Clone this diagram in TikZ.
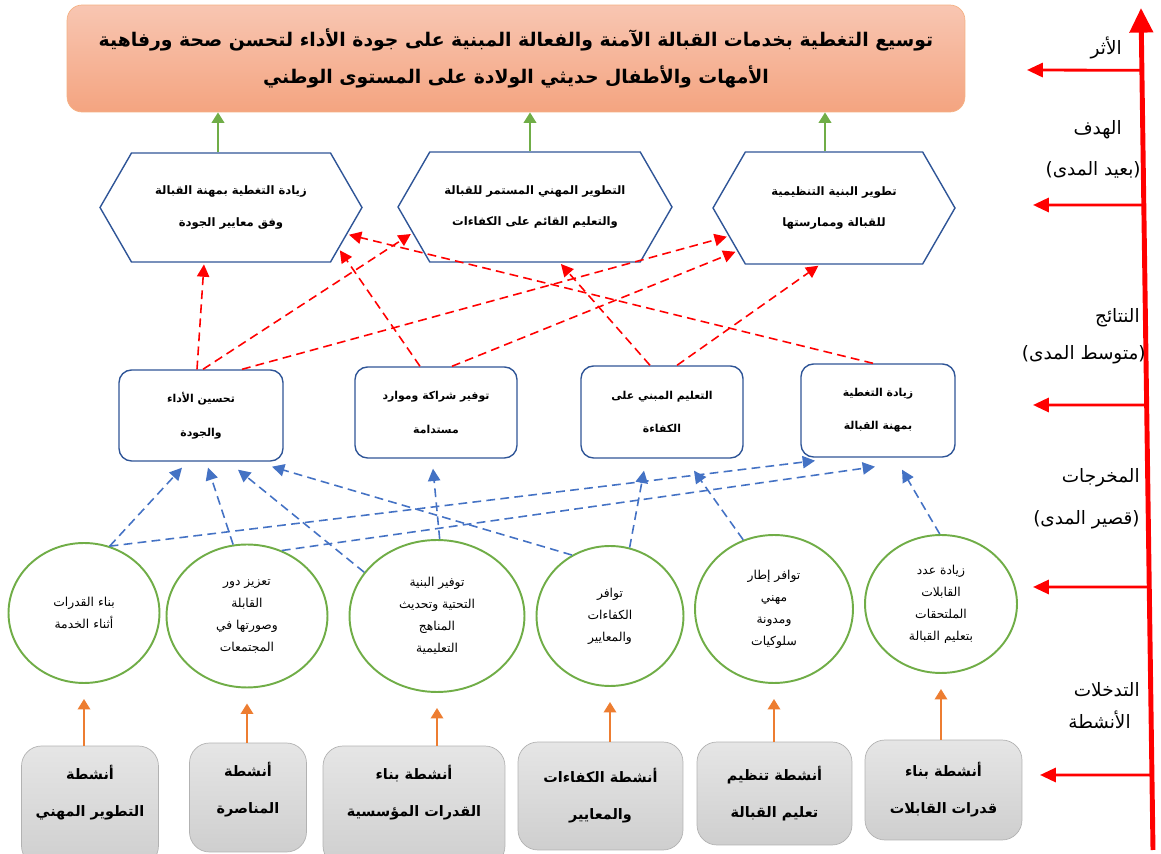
\documentclass[tikz,border=0pt]{standalone}
\usepackage{fontspec}
\usetikzlibrary{shapes.geometric,shapes.symbols,arrows.meta,calc}
\TeXXeTstate=1
\newfontfamily\arabicfont[Script=Arabic]{DejaVu Sans}
\newcommand{\rl}[1]{\beginR#1\endR}

\definecolor{blueline}{RGB}{47,85,151}
\definecolor{bluedash}{RGB}{68,114,196}
\definecolor{greenline}{RGB}{112,173,71}
\definecolor{orangeline}{RGB}{237,125,49}
\definecolor{titletop}{RGB}{248,198,178}
\definecolor{titlebot}{RGB}{244,164,128}

\tikzset{
  impactbox/.style={draw=orangeline!60,rounded corners=0.3cm,top color=titletop,bottom color=titlebot,
    font=\arabicfont\bfseries\fontsize{10.7}{21}\selectfont,align=center,inner sep=0},
  goalhex/.style={signal,signal to=west and east,signal pointer angle=120,draw=blueline,thick,
    font=\arabicfont\bfseries\fontsize{6.6}{18}\selectfont,align=center,inner sep=0},
  outcomebox/.style={draw=blueline,thick,rounded corners=0.25cm,
    font=\arabicfont\bfseries\fontsize{6.2}{19}\selectfont,align=center},
  outputcircle/.style={ellipse,draw=greenline,line width=1.1pt,
    font=\arabicfont\fontsize{7}{12.5}\selectfont,align=center,inner sep=0},
  activitybox/.style={draw=gray!60,rounded corners=0.4cm,top color=gray!20,bottom color=gray!38,
    font=\arabicfont\bfseries\fontsize{8.2}{21}\selectfont,align=center},
  levellabel/.style={font=\arabicfont\fontsize{10.5}{12}\selectfont,anchor=east,inner sep=0},
  upgreen/.style={-{Triangle[width=7pt,length=6pt]},greenline,line width=1.5pt},
  uporange/.style={-{Triangle[width=7pt,length=6pt]},orangeline,line width=1.4pt,shorten >=0.3cm},
  redarrow/.style={-{Triangle[width=7pt,length=7pt]},red,line width=0.9pt,dash pattern=on 5pt off 3pt,shorten >=1pt},
  bluearrow/.style={-{Triangle[width=7pt,length=7pt]},bluedash,line width=0.9pt,dash pattern=on 5pt off 3pt},
  axisarrow/.style={-{Triangle[width=13pt,length=14pt]},red,line width=2.8pt},
  sidearrow/.style={-{Triangle[width=8pt,length=9pt]},red,line width=1.6pt}
}

\begin{document}
\begin{tikzpicture}[x=0.02cm,y=-0.02cm]
\useasboundingbox (0,0) rectangle (1161,854);

% impact
\node[impactbox,minimum width=17.96cm,minimum height=2.14cm] (t) at (516,58.5)
  {\rl{توسيع التغطية بخدمات القبالة الآمنة والفعالة المبنية على جودة الأداء لتحسن صحة ورفاهية}\\
   \rl{الأمهات والأطفال حديثي الولادة على المستوى الوطني}};

% goals
\node[goalhex,minimum width=5.24cm,minimum height=2.18cm] (h1) at (231,207.5)
  {\rl{زيادة التغطية بمهنة القبالة}\\\rl{وفق معايير الجودة}};
\node[goalhex,minimum width=5.48cm,minimum height=2.2cm] (h2) at (535,207)
  {\rl{التطوير المهني المستمر للقبالة}\\\rl{والتعليم القائم على الكفاءات}};
\node[goalhex,minimum width=4.84cm,minimum height=2.24cm] (h3) at (834,208)
  {\rl{تطوير البنية التنظيمية}\\\rl{للقبالة وممارستها}};

\draw[upgreen] ([xshift=-0.26cm]h1.north) -- ([xshift=-0.26cm]h1.north |- t.south);
\draw[upgreen] ([xshift=-0.1cm]h2.north) -- ([xshift=-0.1cm]h2.north |- t.south);
\draw[upgreen] ([xshift=-0.18cm]h3.north) -- ([xshift=-0.18cm]h3.north |- t.south);

% outcomes
\node[outcomebox,minimum width=3.28cm,minimum height=1.82cm] (b1) at (201,415.5)
  {\rl{تحسين الأداء}\\\rl{والجودة}};
\node[outcomebox,minimum width=3.24cm,minimum height=1.82cm] (b2) at (436,412.5)
  {\rl{توفير شراكة وموارد}\\\rl{مستدامة}};
\node[outcomebox,minimum width=3.24cm,minimum height=1.84cm] (b3) at (662,412)
  {\rl{التعليم المبني على}\\\rl{الكفاءة}};
\node[outcomebox,minimum width=3.08cm,minimum height=1.86cm] (b4) at (878,410.5)
  {\rl{زيادة التغطية}\\\rl{بمهنة القبالة}};

\draw[redarrow] ($(b1.north)+(-4,0)$) -- (h1.244);
\draw[redarrow] ($(b1.north)+(2,0)$) -- (h2.192);
\draw[redarrow] ($(b1.north)+(41,0)$) -- (h3.195);
\draw[redarrow] ($(b2.north)+(-16,0)$) -- (h1.339);
\draw[redarrow] ($(b2.north)+(16,0)$) -- (h3.204);
\draw[redarrow] ($(b3.north)+(-12,0)$) -- (h2.294);
\draw[redarrow] ($(b3.north)+(15,0)$) -- (h3.256);
\draw[redarrow] ($(b4.north)+(-5,0)$) -- (h1.347);

% outputs
\node[outputcircle,minimum width=3.02cm,minimum height=2.8cm] (c1) at (84,613)
  {\rl{بناء القدرات}\\\rl{أثناء الخدمة}};
\node[outputcircle,minimum width=3.22cm,minimum height=2.86cm] (c2) at (247,616)
  {\rl{تعزيز دور}\\\rl{القابلة}\\\rl{وصورتها في}\\\rl{المجتمعات}};
\node[outputcircle,minimum width=3.5cm,minimum height=3.04cm] (c3) at (437,616)
  {\rl{توفير البنية}\\\rl{التحتية وتحديث}\\\rl{المناهج}\\\rl{التعليمية}};
\node[outputcircle,minimum width=2.94cm,minimum height=2.8cm] (c4) at (610,616)
  {\rl{توافر}\\\rl{الكفاءات}\\\rl{والمعايير}};
\node[outputcircle,minimum width=3.16cm,minimum height=2.96cm] (c5) at (774,609)
  {\rl{توافر إطار}\\\rl{مهني}\\\rl{ومدونة}\\\rl{سلوكيات}};
\node[outputcircle,minimum width=3.04cm,minimum height=2.76cm] (c6) at (941,604)
  {\rl{زيادة عدد}\\\rl{القابلات}\\\rl{الملتحقات}\\\rl{بتعليم القبالة}};

\draw[bluearrow] (c1.69) -- ($(b1.south)+(-19,6)$);
\draw[bluearrow] (c2.101) -- ($(b1.south)+(7,6)$);
\draw[bluearrow] (c3.149) -- ($(b1.south)+(37,8)$);
\draw[bluearrow] (c4.122) -- ($(b1.south)+(71,5)$);
\draw[bluearrow] (c3.88) -- ($(b2.south)+(-3,10)$);
\draw[bluearrow] (c4.74) -- ($(b3.south)+(-18,12)$);
\draw[bluearrow] (c5.114) -- ($(b3.south)+(32,12)$);
\draw[bluearrow] (c6.91) -- ($(b4.south)+(24,12)$);
\draw[bluearrow] (c1.69) -- ($(b4.south)+(-63,3)$);
\draw[bluearrow] (c2.62) -- ($(b4.south)+(-3,9)$);

% activities
\node[activitybox,minimum width=2.74cm,minimum height=2.4cm,text depth=0.6cm] (a1) at (90,806)
  {\rl{أنشطة}\\\rl{التطوير المهني}};
\node[activitybox,minimum width=2.34cm,minimum height=2.18cm,text depth=0.4cm] (a2) at (248,797.5)
  {\rl{أنشطة}\\\rl{المناصرة}};
\node[activitybox,minimum width=3.64cm,minimum height=2.4cm,text depth=0.6cm] (a3) at (414,806)
  {\rl{أنشطة بناء}\\\rl{القدرات المؤسسية}};
\node[activitybox,minimum width=3.3cm,minimum height=2.16cm] (a4) at (600.5,796)
  {\rl{أنشطة الكفاءات}\\\rl{والمعايير}};
\node[activitybox,minimum width=3.1cm,minimum height=2.06cm] (a5) at (774.5,793.5)
  {\rl{أنشطة تنظيم}\\\rl{تعليم القبالة}};
\node[activitybox,minimum width=3.14cm,minimum height=2cm] (a6) at (943.5,790)
  {\rl{أنشطة بناء}\\\rl{قدرات القابلات}};

\draw[uporange] (a1.north -| c1.south) -- (c1.south);
\draw[uporange] (a2.north -| c2.south) -- (c2.south);
\draw[uporange] (a3.north -| c3.south) -- (c3.south);
\draw[uporange] (a4.north -| c4.south) -- (c4.south);
\draw[uporange] (a5.north -| c5.south) -- (c5.south);
\draw[uporange] (a6.north -| c6.south) -- (c6.south);

% levels
\coordinate (axtop) at (1141,8);
\coordinate (axbot) at (1153,850);
\draw[axisarrow] (axbot) -- (axtop);
\coordinate (e1) at (1027,70);
\coordinate (e2) at (1033,205);
\coordinate (e3) at (1033,405);
\coordinate (e4) at (1033,587);
\coordinate (e5) at (1040,775);
\draw[sidearrow] ($(axtop)!0.074!(axbot)$) -- (e1);
\draw[sidearrow] ($(axtop)!0.234!(axbot)$) -- (e2);
\draw[sidearrow] ($(axtop)!0.4715!(axbot)$) -- (e3);
\draw[sidearrow] ($(axtop)!0.6876!(axbot)$) -- (e4);
\draw[sidearrow] ($(axtop)!0.911!(axbot)$) -- (e5);

\node[levellabel] (l1) at (1122,48) {\rl{الأثر}};
\node[levellabel] (l2) at (1122,130) {\rl{الهدف}};
\node[levellabel] (l2b) at (1141,170) {\rl{(بعيد المدى)}};
\node[levellabel] (l3) at (1140,318) {\rl{النتائج}};
\node[levellabel] (l3b) at (1146,355) {\rl{(متوسط المدى)}};
\node[levellabel] (l4) at (1140,478) {\rl{المخرجات}};
\node[levellabel] (l4b) at (1140,520) {\rl{(قصير المدى)}};
\node[levellabel] (l5) at (1140,690) {\rl{التدخلات}};
\node[levellabel] (l5b) at (1131,720) {\rl{الأنشطة}};
\end{tikzpicture}
\end{document}
